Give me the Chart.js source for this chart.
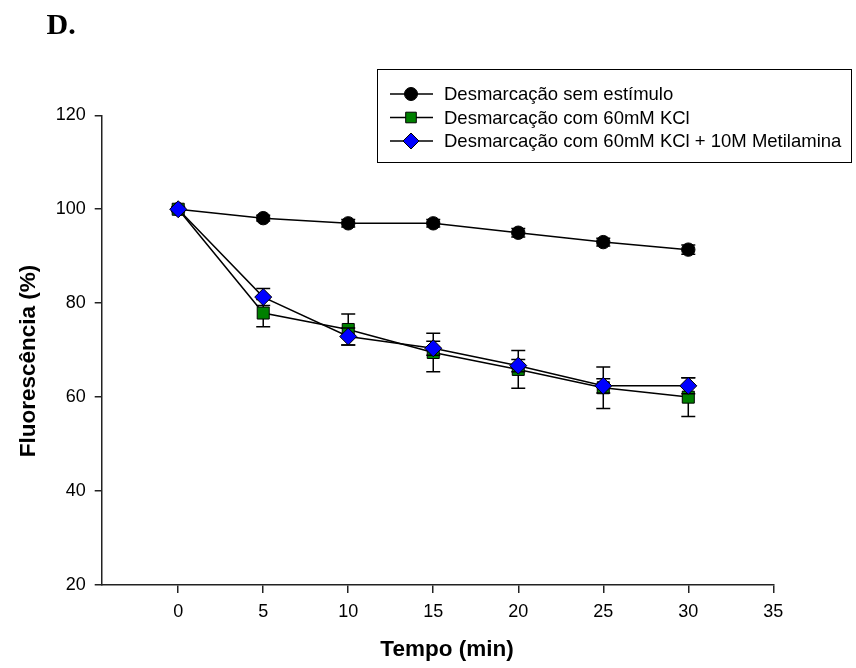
<!DOCTYPE html>
<html>
<head>
<meta charset="utf-8">
<script src="https://cdn.jsdelivr.net/npm/chart.js@4.4.0/dist/chart.umd.min.js"></script>
<style>
  html, body { margin: 0; padding: 0; background: #fff; }
</style>
</head>
<body>
<canvas id="chart" width="856" height="668"></canvas>
<script>
// Data
const times = [0, 5, 10, 15, 20, 25, 30];
const semEstimulo = [100, 98.1, 97.0, 97.0, 95.0, 93.0, 91.4];
const semEstimuloErr = [0.5, 0.6, 0.8, 0.8, 0.9, 0.8, 1.0];
const comKCl = [100, 77.9, 74.4, 69.5, 65.9, 62.0, 60.0];
const comKClErr = [0, 2.9, 3.3, 4.1, 4.0, 4.4, 4.1];
const comMetilamina = [100, 81.3, 72.9, 70.4, 66.7, 62.4, 62.4];
const comMetilaminaErr = [0, 1.8, 1.8, 1.5, 1.3, 1.5, 1.7];
const seriesNames = [
  "Desmarcação sem estímulo",
  "Desmarcação com 60mM KCl",
  "Desmarcação com 60mM KCl + 10M Metilamina",
];
const xTicks = [0, 5, 10, 15, 20, 25, 30, 35];
const yTicks = [20, 40, 60, 80, 100, 120];

const errors = [semEstimuloErr, comKClErr, comMetilaminaErr];
const SANS = "'Liberation Sans', Arial, sans-serif";

function points(values) {
  return times.map((t, i) => ({ x: t, y: values[i] }));
}

// Error bars: drawn just before each dataset so its own markers sit on top
const errorBars = {
  id: "errorBars",
  beforeDatasetDraw(chart, args) {
    const ds = chart.data.datasets[args.index];
    const errs = errors[args.index];
    const xs = chart.scales.x;
    const ys = chart.scales.y;
    const ctx = chart.ctx;
    ctx.save();
    ctx.strokeStyle = "#000";
    ctx.lineWidth = 1.5;
    ds.data.forEach((p, j) => {
      if (!errs[j]) return;
      const x = xs.getPixelForValue(p.x);
      const top = ys.getPixelForValue(p.y + errs[j]);
      const bot = ys.getPixelForValue(p.y - errs[j]);
      ctx.beginPath();
      ctx.moveTo(x, top); ctx.lineTo(x, bot);
      ctx.moveTo(x - 7, top); ctx.lineTo(x + 7, top);
      ctx.moveTo(x - 7, bot); ctx.lineTo(x + 7, bot);
      ctx.stroke();
    });
    ctx.restore();
  },
};

// Boxed legend with line-through-marker samples, panel letter and axis titles
const decorations = {
  id: "decorations",
  afterDraw(chart) {
    const ctx = chart.ctx;
    ctx.save();

    ctx.fillStyle = "#000";
    ctx.font = "bold 30px 'Liberation Serif', 'Times New Roman', serif";
    ctx.textBaseline = "alphabetic";
    ctx.textAlign = "left";
    ctx.fillText("D.", 46.5, 33.5);

    // legend box
    ctx.strokeStyle = "#000";
    ctx.lineWidth = 1;
    ctx.strokeRect(377.5, 69.5, 474, 93);
    ctx.font = "18.5px " + SANS;
    ctx.textBaseline = "middle";
    const rowY = [94, 117.5, 141];
    const legendRadius = [6.5, 7.5, 8];
    chart.data.datasets.forEach((ds, i) => {
      const y = rowY[i];
      ctx.strokeStyle = "#000";
      ctx.lineWidth = 1.5;
      ctx.beginPath();
      ctx.moveTo(390, y); ctx.lineTo(433, y);
      ctx.stroke();
      ctx.lineWidth = 1;
      ctx.fillStyle = ds.pointBackgroundColor;
      Chart.helpers.drawPoint(ctx, {
        pointStyle: ds.pointStyle,
        radius: legendRadius[i],
        borderWidth: 1,
      }, 411, y);
      ctx.fillStyle = "#000";
      ctx.fillText(seriesNames[i], 444, y + 1);
    });

    // axis titles
    ctx.font = "bold 22.5px " + SANS;
    ctx.textAlign = "center";
    ctx.fillText("Tempo (min)", 447, 650);
    ctx.translate(29, 361);
    ctx.rotate(-Math.PI / 2);
    ctx.fillText("Fluorescência (%)", 0, 0);
    ctx.restore();
  },
};

const baseDataset = {
  borderColor: "#000",
  borderWidth: 1.5,
  pointBorderColor: "#000",
  pointBorderWidth: 1,
  tension: 0,
  fill: false,
};

new Chart(document.getElementById("chart"), {
  type: "line",
  data: {
    datasets: [
      {
        ...baseDataset,
        label: seriesNames[0],
        data: points(semEstimulo),
        pointStyle: "circle",
        pointRadius: 6.7,
        pointBackgroundColor: "#000",
        order: 3,
      },
      {
        ...baseDataset,
        label: seriesNames[1],
        data: points(comKCl),
        pointStyle: "rect",
        pointRadius: 8.5,
        pointBackgroundColor: "#008000",
        order: 2,
      },
      {
        ...baseDataset,
        label: seriesNames[2],
        data: points(comMetilamina),
        pointStyle: "rectRot",
        pointRadius: 8.5,
        pointBackgroundColor: "#0000ff",
        order: 1,
      },
    ],
  },
  options: {
    responsive: false,
    animation: false,
    devicePixelRatio: 1,
    layout: { padding: { left: 0, right: 82.7, top: 115.3, bottom: 0 } },
    plugins: {
      legend: { display: false },
      tooltip: { enabled: false },
    },
    scales: {
      x: {
        type: "linear",
        min: -4.5,
        max: 35,
        afterFit(scale) { scale.height = 83; },
        afterBuildTicks(scale) { scale.ticks = xTicks.map((v) => ({ value: v })); },
        grid: { drawOnChartArea: false, tickLength: 8, color: "#222", lineWidth: 1.5 },
        border: { color: "#222", width: 1.5 },
        ticks: { color: "#000", padding: 8, font: { family: SANS, size: 18 } },
      },
      y: {
        min: 20,
        max: 120,
        afterFit(scale) { scale.width = 101.7; },
        afterBuildTicks(scale) { scale.ticks = yTicks.map((v) => ({ value: v })); },
        grid: { drawOnChartArea: false, tickLength: 7, color: "#222", lineWidth: 1.5 },
        border: { color: "#222", width: 1.5 },
        ticks: { color: "#000", padding: 9, font: { family: SANS, size: 18 } },
      },
    },
  },
  plugins: [errorBars, decorations],
});
</script>
</body>
</html>
